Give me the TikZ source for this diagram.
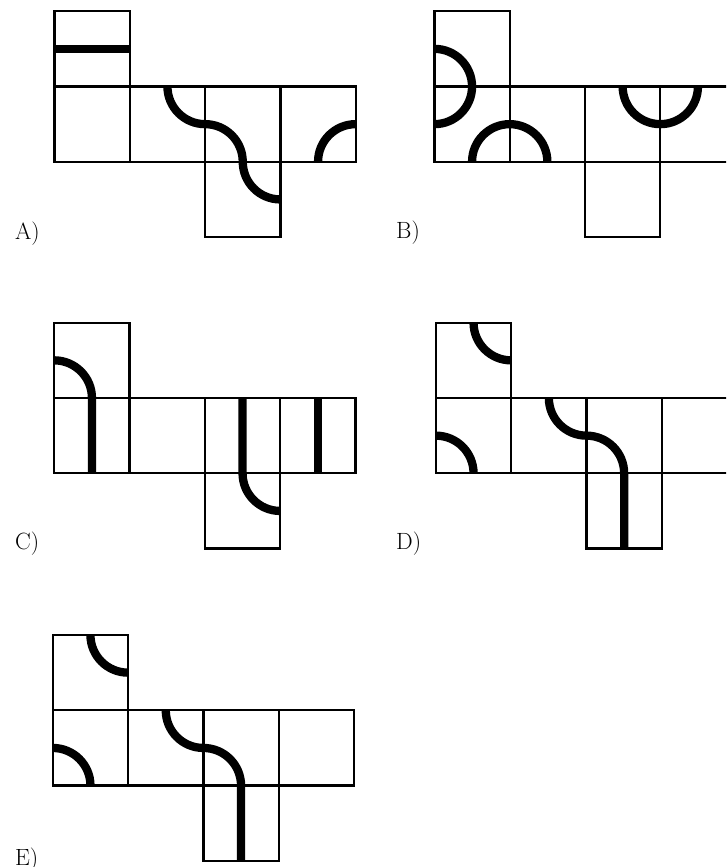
\documentclass[tikz,border=0pt]{standalone}
\usepackage{fontspec}
\setmainfont{Latin Modern Roman}
\usepackage{tikz}
\tikzset{
  grid/.style={line width=2.3pt, line join=miter},
  tube/.style={line width=8.3pt},
  lbl/.style={anchor=base west, inner sep=0pt, font=\fontsize{23.5}{28}\selectfont},
}
\def\s{75.3}
\def\r{37.65}
\newcommand{\netgrid}{%
  \draw[grid] (0,0) rectangle (\s,\s);
  \draw[grid] (0,\s) rectangle (4*\s,2*\s);
  \draw[grid] (\s,\s) -- (\s,2*\s);
  \draw[grid] (2*\s,\s) -- (2*\s,2*\s);
  \draw[grid] (3*\s,\s) -- (3*\s,2*\s);
  \draw[grid] (2*\s,2*\s) rectangle (3*\s,3*\s);
}
\begin{document}
\begin{tikzpicture}[x=1pt,y=-1pt]
\useasboundingbox (0,0) rectangle (726,867);
\clip (0,0) rectangle (726,867);

% ---------- A ----------
\begin{scope}[shift={(54.5,11.2)}]
  \netgrid
  \draw[tube] (0,\r) -- (\s,\r);
  \draw[tube] (1.5*\s,\s) arc[start angle=180, end angle=90, radius=\r]
              arc[start angle=270, end angle=360, radius=\r]
              arc[start angle=180, end angle=90, radius=\r];
  \draw[tube] (3.5*\s,2*\s) arc[start angle=180, end angle=270, radius=\r];
\end{scope}
\node[lbl] (la) at (15,239.3) {A)};

% ---------- B ----------
\begin{scope}[shift={(434.4,11.2)}]
  \netgrid
  \draw[tube] (0,\r) arc[start angle=-90, end angle=90, radius=\r];
  \draw[tube] (\r,2*\s) arc[start angle=180, end angle=360, radius=\r];
  \draw[tube] (2.5*\s,\s) arc[start angle=180, end angle=0, radius=\r];
\end{scope}
\node[lbl] (lb) at (396,238.8) {B)};

% ---------- C ----------
\begin{scope}[shift={(54.3,322.7)}]
  \netgrid
  \draw[tube] (0,\r) arc[start angle=270, end angle=360, radius=\r] -- (\r,2*\s);
  \draw[tube] (2.5*\s,\s) -- (2.5*\s,2*\s) arc[start angle=180, end angle=90, radius=\r];
  \draw[tube] (3.5*\s,\s) -- (3.5*\s,2*\s);
\end{scope}
\node[lbl] (lc) at (15,549.5) {C)};

% ---------- D ----------
\begin{scope}[shift={(435.9,322.7)}]
  \netgrid
  \draw[tube] (\r,0) arc[start angle=180, end angle=90, radius=\r];
  \draw[tube] (0,1.5*\s) arc[start angle=270, end angle=360, radius=\r];
  \draw[tube] (1.5*\s,\s) arc[start angle=180, end angle=90, radius=\r]
              arc[start angle=270, end angle=360, radius=\r] -- (2.5*\s,3*\s);
\end{scope}
\node[lbl] (ld) at (396,549.5) {D)};

% ---------- E ----------
\begin{scope}[shift={(52.8,635.0)}]
  \netgrid
  \draw[tube] (\r,0) arc[start angle=180, end angle=90, radius=\r];
  \draw[tube] (0,1.5*\s) arc[start angle=270, end angle=360, radius=\r];
  \draw[tube] (1.5*\s,\s) arc[start angle=180, end angle=90, radius=\r]
              arc[start angle=270, end angle=360, radius=\r] -- (2.5*\s,3*\s);
\end{scope}
\node[lbl] (le) at (15,865.0) {E)};
\end{tikzpicture}
\end{document}
